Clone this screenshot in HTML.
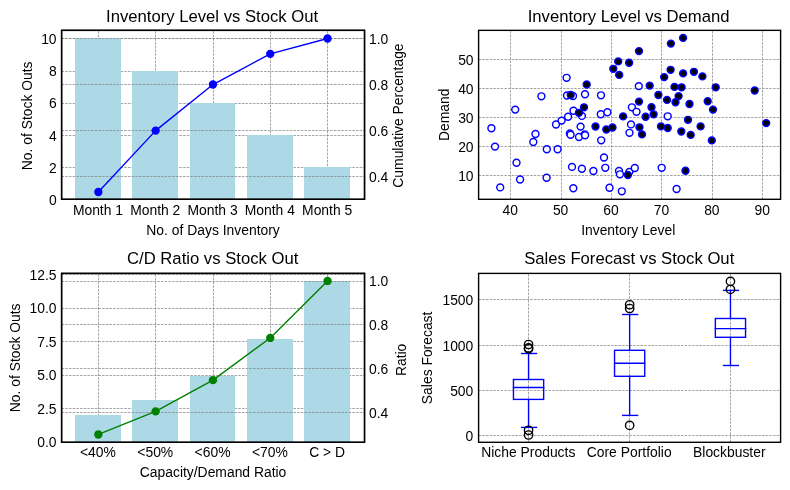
<!DOCTYPE html>
<html lang="en"><head><meta charset="utf-8"><title>Inventory charts</title>
<style>html,body{margin:0;padding:0;background:#fff}svg{display:block}text{white-space:pre}</style>
</head><body>
<svg width="790" height="490" viewBox="0 0 790 490" font-family='"Liberation Sans", sans-serif' fill="#000">
<rect width="790" height="490" fill="#fff"/>
<line x1="98.5" x2="98.5" y1="199.30" y2="30.35" stroke="#808080" stroke-width="0.7" stroke-dasharray="2.57 1.11" fill="none"/>
<line x1="155.5" x2="155.5" y1="199.30" y2="30.35" stroke="#808080" stroke-width="0.7" stroke-dasharray="2.57 1.11" fill="none"/>
<line x1="213.5" x2="213.5" y1="199.30" y2="30.35" stroke="#808080" stroke-width="0.7" stroke-dasharray="2.57 1.11" fill="none"/>
<line x1="270.5" x2="270.5" y1="199.30" y2="30.35" stroke="#808080" stroke-width="0.7" stroke-dasharray="2.57 1.11" fill="none"/>
<line x1="327.5" x2="327.5" y1="199.30" y2="30.35" stroke="#808080" stroke-width="0.7" stroke-dasharray="2.57 1.11" fill="none"/>
<line x1="61.60" x2="364.53" y1="167.5" y2="167.5" stroke="#808080" stroke-width="0.7" stroke-dasharray="2.57 1.11" fill="none"/>
<line x1="61.60" x2="364.53" y1="135.5" y2="135.5" stroke="#808080" stroke-width="0.7" stroke-dasharray="2.57 1.11" fill="none"/>
<line x1="61.60" x2="364.53" y1="103.5" y2="103.5" stroke="#808080" stroke-width="0.7" stroke-dasharray="2.57 1.11" fill="none"/>
<line x1="61.60" x2="364.53" y1="71.5" y2="71.5" stroke="#808080" stroke-width="0.7" stroke-dasharray="2.57 1.11" fill="none"/>
<line x1="61.60" x2="364.53" y1="38.5" y2="38.5" stroke="#808080" stroke-width="0.7" stroke-dasharray="2.57 1.11" fill="none"/>
<rect x="75" y="38" width="46" height="161.30" fill="#ADD8E6"/>
<rect x="132" y="71" width="46" height="128.30" fill="#ADD8E6"/>
<rect x="190" y="103" width="45" height="96.30" fill="#ADD8E6"/>
<rect x="247" y="135" width="46" height="64.30" fill="#ADD8E6"/>
<rect x="304" y="167" width="46" height="32.30" fill="#ADD8E6"/>
<line x1="61.60" x2="364.53" y1="176.5" y2="176.5" stroke="#808080" stroke-width="0.7" stroke-dasharray="2.57 1.11" fill="none"/>
<line x1="61.60" x2="364.53" y1="130.5" y2="130.5" stroke="#808080" stroke-width="0.7" stroke-dasharray="2.57 1.11" fill="none"/>
<line x1="61.60" x2="364.53" y1="84.5" y2="84.5" stroke="#808080" stroke-width="0.7" stroke-dasharray="2.57 1.11" fill="none"/>
<line x1="61.60" x2="364.53" y1="38.5" y2="38.5" stroke="#808080" stroke-width="0.7" stroke-dasharray="2.57 1.11" fill="none"/>
<polyline points="98.35,192.02 155.65,130.60 212.95,84.54 270.25,53.83 327.55,38.48" fill="none" stroke="#0000FF" stroke-width="1.39" stroke-linejoin="round"/>
<circle cx="98.35" cy="192.02" r="4.17" fill="#0000FF"/>
<circle cx="155.65" cy="130.60" r="4.17" fill="#0000FF"/>
<circle cx="212.95" cy="84.54" r="4.17" fill="#0000FF"/>
<circle cx="270.25" cy="53.83" r="4.17" fill="#0000FF"/>
<circle cx="327.55" cy="38.48" r="4.17" fill="#0000FF"/>
<rect x="61.60" y="30.35" width="302.93" height="168.95" fill="none" stroke="#000" stroke-width="1.39" stroke-linejoin="miter"/>
<rect x="61.60" y="30.35" width="302.93" height="168.95" fill="none" stroke="#000" stroke-width="1.39" stroke-linejoin="miter"/>
<text x="212.06" y="22.00" font-size="16.67" text-anchor="middle">Inventory Level vs Stock Out</text>
<text x="97.95" y="215.00" font-size="13.89" text-anchor="middle">Month 1</text>
<text x="155.25" y="215.00" font-size="13.89" text-anchor="middle">Month 2</text>
<text x="212.55" y="215.00" font-size="13.89" text-anchor="middle">Month 3</text>
<text x="269.85" y="215.00" font-size="13.89" text-anchor="middle">Month 4</text>
<text x="327.15" y="215.00" font-size="13.89" text-anchor="middle">Month 5</text>
<text x="213.06" y="234.60" font-size="13.89" text-anchor="middle">No. of Days Inventory</text>
<text x="56.60" y="205.00" font-size="13.89" text-anchor="end">0</text>
<text x="56.60" y="173.00" font-size="13.89" text-anchor="end">2</text>
<text x="56.60" y="141.00" font-size="13.89" text-anchor="end">4</text>
<text x="56.60" y="108.00" font-size="13.89" text-anchor="end">6</text>
<text x="56.60" y="76.00" font-size="13.89" text-anchor="end">8</text>
<text x="56.60" y="44.00" font-size="13.89" text-anchor="end">10</text>
<text x="369.03" y="182.00" font-size="13.89" text-anchor="start">0.4</text>
<text x="369.03" y="136.00" font-size="13.89" text-anchor="start">0.6</text>
<text x="369.03" y="90.00" font-size="13.89" text-anchor="start">0.8</text>
<text x="369.03" y="44.00" font-size="13.89" text-anchor="start">1.0</text>
<text x="31.60" y="115.83" font-size="13.89" text-anchor="middle" transform="rotate(-90 31.60 115.83)">No. of Stock Outs</text>
<text x="403.20" y="115.53" font-size="13.89" text-anchor="middle" transform="rotate(-90 403.20 115.53)">Cumulative Percentage</text>
<line x1="98.5" x2="98.5" y1="442.30" y2="273.40" stroke="#808080" stroke-width="0.7" stroke-dasharray="2.57 1.11" fill="none"/>
<line x1="155.5" x2="155.5" y1="442.30" y2="273.40" stroke="#808080" stroke-width="0.7" stroke-dasharray="2.57 1.11" fill="none"/>
<line x1="213.5" x2="213.5" y1="442.30" y2="273.40" stroke="#808080" stroke-width="0.7" stroke-dasharray="2.57 1.11" fill="none"/>
<line x1="270.5" x2="270.5" y1="442.30" y2="273.40" stroke="#808080" stroke-width="0.7" stroke-dasharray="2.57 1.11" fill="none"/>
<line x1="327.5" x2="327.5" y1="442.30" y2="273.40" stroke="#808080" stroke-width="0.7" stroke-dasharray="2.57 1.11" fill="none"/>
<line x1="61.60" x2="364.53" y1="408.5" y2="408.5" stroke="#808080" stroke-width="0.7" stroke-dasharray="2.57 1.11" fill="none"/>
<line x1="61.60" x2="364.53" y1="375.5" y2="375.5" stroke="#808080" stroke-width="0.7" stroke-dasharray="2.57 1.11" fill="none"/>
<line x1="61.60" x2="364.53" y1="341.5" y2="341.5" stroke="#808080" stroke-width="0.7" stroke-dasharray="2.57 1.11" fill="none"/>
<line x1="61.60" x2="364.53" y1="308.5" y2="308.5" stroke="#808080" stroke-width="0.7" stroke-dasharray="2.57 1.11" fill="none"/>
<line x1="61.60" x2="364.53" y1="274.5" y2="274.5" stroke="#808080" stroke-width="0.7" stroke-dasharray="2.57 1.11" fill="none"/>
<rect x="75" y="415" width="46" height="27.30" fill="#ADD8E6"/>
<rect x="132" y="400" width="46" height="42.30" fill="#ADD8E6"/>
<rect x="190" y="376" width="45" height="66.30" fill="#ADD8E6"/>
<rect x="247" y="339" width="46" height="103.30" fill="#ADD8E6"/>
<rect x="304" y="281" width="46" height="161.30" fill="#ADD8E6"/>
<line x1="61.60" x2="364.53" y1="412.5" y2="412.5" stroke="#808080" stroke-width="0.7" stroke-dasharray="2.57 1.11" fill="none"/>
<line x1="61.60" x2="364.53" y1="368.5" y2="368.5" stroke="#808080" stroke-width="0.7" stroke-dasharray="2.57 1.11" fill="none"/>
<line x1="61.60" x2="364.53" y1="324.5" y2="324.5" stroke="#808080" stroke-width="0.7" stroke-dasharray="2.57 1.11" fill="none"/>
<line x1="61.60" x2="364.53" y1="281.5" y2="281.5" stroke="#808080" stroke-width="0.7" stroke-dasharray="2.57 1.11" fill="none"/>
<polyline points="98.35,434.48 155.65,411.37 212.95,380.14 270.25,337.95 327.55,280.94" fill="none" stroke="#008000" stroke-width="1.39" stroke-linejoin="round"/>
<circle cx="98.35" cy="434.48" r="4.17" fill="#008000"/>
<circle cx="155.65" cy="411.37" r="4.17" fill="#008000"/>
<circle cx="212.95" cy="380.14" r="4.17" fill="#008000"/>
<circle cx="270.25" cy="337.95" r="4.17" fill="#008000"/>
<circle cx="327.55" cy="280.94" r="4.17" fill="#008000"/>
<rect x="61.60" y="273.40" width="302.93" height="168.90" fill="none" stroke="#000" stroke-width="1.39" stroke-linejoin="miter"/>
<rect x="61.60" y="273.40" width="302.93" height="168.90" fill="none" stroke="#000" stroke-width="1.39" stroke-linejoin="miter"/>
<text x="212.66" y="263.60" font-size="16.67" text-anchor="middle">C/D Ratio vs Stock Out</text>
<text x="97.95" y="457.40" font-size="13.89" text-anchor="middle">&lt;40%</text>
<text x="155.25" y="457.40" font-size="13.89" text-anchor="middle">&lt;50%</text>
<text x="212.55" y="457.40" font-size="13.89" text-anchor="middle">&lt;60%</text>
<text x="269.85" y="457.40" font-size="13.89" text-anchor="middle">&lt;70%</text>
<text x="327.15" y="457.40" font-size="13.89" text-anchor="middle">C &gt; D</text>
<text x="213.06" y="477.00" font-size="13.89" text-anchor="middle">Capacity/Demand Ratio</text>
<text x="56.60" y="447.00" font-size="13.89" text-anchor="end">0.0</text>
<text x="56.60" y="414.00" font-size="13.89" text-anchor="end">2.5</text>
<text x="56.60" y="380.00" font-size="13.89" text-anchor="end">5.0</text>
<text x="56.60" y="347.00" font-size="13.89" text-anchor="end">7.5</text>
<text x="56.60" y="313.00" font-size="13.89" text-anchor="end">10.0</text>
<text x="56.60" y="280.00" font-size="13.89" text-anchor="end">12.5</text>
<text x="369.03" y="418.00" font-size="13.89" text-anchor="start">0.4</text>
<text x="369.03" y="374.00" font-size="13.89" text-anchor="start">0.6</text>
<text x="369.03" y="330.00" font-size="13.89" text-anchor="start">0.8</text>
<text x="369.03" y="286.00" font-size="13.89" text-anchor="start">1.0</text>
<text x="20.00" y="357.85" font-size="13.89" text-anchor="middle" transform="rotate(-90 20.00 357.85)">No. of Stock Outs</text>
<text x="405.70" y="359.85" font-size="13.89" text-anchor="middle" transform="rotate(-90 405.70 359.85)">Ratio</text>
<line x1="510.5" x2="510.5" y1="199.30" y2="30.35" stroke="#808080" stroke-width="0.7" stroke-dasharray="2.57 1.11" fill="none"/>
<line x1="561.5" x2="561.5" y1="199.30" y2="30.35" stroke="#808080" stroke-width="0.7" stroke-dasharray="2.57 1.11" fill="none"/>
<line x1="611.5" x2="611.5" y1="199.30" y2="30.35" stroke="#808080" stroke-width="0.7" stroke-dasharray="2.57 1.11" fill="none"/>
<line x1="661.5" x2="661.5" y1="199.30" y2="30.35" stroke="#808080" stroke-width="0.7" stroke-dasharray="2.57 1.11" fill="none"/>
<line x1="712.5" x2="712.5" y1="199.30" y2="30.35" stroke="#808080" stroke-width="0.7" stroke-dasharray="2.57 1.11" fill="none"/>
<line x1="762.5" x2="762.5" y1="199.30" y2="30.35" stroke="#808080" stroke-width="0.7" stroke-dasharray="2.57 1.11" fill="none"/>
<line x1="478.60" x2="780.60" y1="175.5" y2="175.5" stroke="#808080" stroke-width="0.7" stroke-dasharray="2.57 1.11" fill="none"/>
<line x1="478.60" x2="780.60" y1="146.5" y2="146.5" stroke="#808080" stroke-width="0.7" stroke-dasharray="2.57 1.11" fill="none"/>
<line x1="478.60" x2="780.60" y1="117.5" y2="117.5" stroke="#808080" stroke-width="0.7" stroke-dasharray="2.57 1.11" fill="none"/>
<line x1="478.60" x2="780.60" y1="88.5" y2="88.5" stroke="#808080" stroke-width="0.7" stroke-dasharray="2.57 1.11" fill="none"/>
<line x1="478.60" x2="780.60" y1="59.5" y2="59.5" stroke="#808080" stroke-width="0.7" stroke-dasharray="2.57 1.11" fill="none"/>
<circle cx="566.6" cy="77.8" r="3.45" fill="#fff" stroke="#0000FF" stroke-width="1.45"/>
<circle cx="541.4" cy="96.3" r="3.45" fill="#fff" stroke="#0000FF" stroke-width="1.45"/>
<circle cx="515.2" cy="109.6" r="3.45" fill="#fff" stroke="#0000FF" stroke-width="1.45"/>
<circle cx="491.4" cy="128.2" r="3.45" fill="#fff" stroke="#0000FF" stroke-width="1.45"/>
<circle cx="556.0" cy="124.5" r="3.45" fill="#fff" stroke="#0000FF" stroke-width="1.45"/>
<circle cx="561.6" cy="120.6" r="3.45" fill="#fff" stroke="#0000FF" stroke-width="1.45"/>
<circle cx="568.1" cy="116.7" r="3.45" fill="#fff" stroke="#0000FF" stroke-width="1.45"/>
<circle cx="573.5" cy="110.7" r="3.45" fill="#fff" stroke="#0000FF" stroke-width="1.45"/>
<circle cx="581.9" cy="115.9" r="3.45" fill="#fff" stroke="#0000FF" stroke-width="1.45"/>
<circle cx="567.0" cy="95.5" r="3.45" fill="#fff" stroke="#0000FF" stroke-width="1.45"/>
<circle cx="573.0" cy="96.0" r="3.45" fill="#fff" stroke="#0000FF" stroke-width="1.45"/>
<circle cx="585.0" cy="94.2" r="3.45" fill="#fff" stroke="#0000FF" stroke-width="1.45"/>
<circle cx="601.0" cy="95.3" r="3.45" fill="#fff" stroke="#0000FF" stroke-width="1.45"/>
<circle cx="638.8" cy="86.1" r="3.45" fill="#fff" stroke="#0000FF" stroke-width="1.45"/>
<circle cx="600.8" cy="114.2" r="3.45" fill="#fff" stroke="#0000FF" stroke-width="1.45"/>
<circle cx="607.4" cy="112.2" r="3.45" fill="#fff" stroke="#0000FF" stroke-width="1.45"/>
<circle cx="631.9" cy="107.3" r="3.45" fill="#fff" stroke="#0000FF" stroke-width="1.45"/>
<circle cx="636.5" cy="111.8" r="3.45" fill="#fff" stroke="#0000FF" stroke-width="1.45"/>
<circle cx="580.6" cy="126.6" r="3.45" fill="#fff" stroke="#0000FF" stroke-width="1.45"/>
<circle cx="631.0" cy="124.4" r="3.45" fill="#fff" stroke="#0000FF" stroke-width="1.45"/>
<circle cx="667.7" cy="116.3" r="3.45" fill="#fff" stroke="#0000FF" stroke-width="1.45"/>
<circle cx="495.0" cy="146.6" r="3.45" fill="#fff" stroke="#0000FF" stroke-width="1.45"/>
<circle cx="535.5" cy="134.0" r="3.45" fill="#fff" stroke="#0000FF" stroke-width="1.45"/>
<circle cx="533.3" cy="142.0" r="3.45" fill="#fff" stroke="#0000FF" stroke-width="1.45"/>
<circle cx="516.5" cy="162.7" r="3.45" fill="#fff" stroke="#0000FF" stroke-width="1.45"/>
<circle cx="546.8" cy="149.2" r="3.45" fill="#fff" stroke="#0000FF" stroke-width="1.45"/>
<circle cx="557.6" cy="149.2" r="3.45" fill="#fff" stroke="#0000FF" stroke-width="1.45"/>
<circle cx="569.9" cy="133.5" r="3.45" fill="#fff" stroke="#0000FF" stroke-width="1.45"/>
<circle cx="570.6" cy="134.7" r="3.45" fill="#fff" stroke="#0000FF" stroke-width="1.45"/>
<circle cx="579.0" cy="137.0" r="3.45" fill="#fff" stroke="#0000FF" stroke-width="1.45"/>
<circle cx="584.7" cy="134.5" r="3.45" fill="#fff" stroke="#0000FF" stroke-width="1.45"/>
<circle cx="585.1" cy="135.3" r="3.45" fill="#fff" stroke="#0000FF" stroke-width="1.45"/>
<circle cx="601.2" cy="140.3" r="3.45" fill="#fff" stroke="#0000FF" stroke-width="1.45"/>
<circle cx="629.5" cy="132.8" r="3.45" fill="#fff" stroke="#0000FF" stroke-width="1.45"/>
<circle cx="604.0" cy="157.5" r="3.45" fill="#fff" stroke="#0000FF" stroke-width="1.45"/>
<circle cx="572.0" cy="166.9" r="3.45" fill="#fff" stroke="#0000FF" stroke-width="1.45"/>
<circle cx="581.9" cy="168.7" r="3.45" fill="#fff" stroke="#0000FF" stroke-width="1.45"/>
<circle cx="593.4" cy="171.0" r="3.45" fill="#fff" stroke="#0000FF" stroke-width="1.45"/>
<circle cx="605.3" cy="167.8" r="3.45" fill="#fff" stroke="#0000FF" stroke-width="1.45"/>
<circle cx="619.0" cy="171.0" r="3.45" fill="#fff" stroke="#0000FF" stroke-width="1.45"/>
<circle cx="619.9" cy="174.3" r="3.45" fill="#fff" stroke="#0000FF" stroke-width="1.45"/>
<circle cx="629.3" cy="171.9" r="3.45" fill="#fff" stroke="#0000FF" stroke-width="1.45"/>
<circle cx="634.8" cy="168.0" r="3.45" fill="#fff" stroke="#0000FF" stroke-width="1.45"/>
<circle cx="661.7" cy="167.8" r="3.45" fill="#fff" stroke="#0000FF" stroke-width="1.45"/>
<circle cx="676.6" cy="189.0" r="3.45" fill="#fff" stroke="#0000FF" stroke-width="1.45"/>
<circle cx="621.8" cy="191.3" r="3.45" fill="#fff" stroke="#0000FF" stroke-width="1.45"/>
<circle cx="609.5" cy="187.7" r="3.45" fill="#fff" stroke="#0000FF" stroke-width="1.45"/>
<circle cx="520.1" cy="179.5" r="3.45" fill="#fff" stroke="#0000FF" stroke-width="1.45"/>
<circle cx="500.2" cy="187.4" r="3.45" fill="#fff" stroke="#0000FF" stroke-width="1.45"/>
<circle cx="546.6" cy="177.7" r="3.45" fill="#fff" stroke="#0000FF" stroke-width="1.45"/>
<circle cx="573.3" cy="188.2" r="3.45" fill="#fff" stroke="#0000FF" stroke-width="1.45"/>
<circle cx="618.2" cy="61.4" r="3.45" fill="#000" stroke="#0000FF" stroke-width="1.45"/>
<circle cx="629.1" cy="62.7" r="3.45" fill="#000" stroke="#0000FF" stroke-width="1.45"/>
<circle cx="613.3" cy="68.8" r="3.45" fill="#000" stroke="#0000FF" stroke-width="1.45"/>
<circle cx="619.2" cy="74.9" r="3.45" fill="#000" stroke="#0000FF" stroke-width="1.45"/>
<circle cx="639.0" cy="51.1" r="3.45" fill="#000" stroke="#0000FF" stroke-width="1.45"/>
<circle cx="683.1" cy="37.9" r="3.45" fill="#000" stroke="#0000FF" stroke-width="1.45"/>
<circle cx="670.9" cy="43.6" r="3.45" fill="#000" stroke="#0000FF" stroke-width="1.45"/>
<circle cx="670.6" cy="69.8" r="3.45" fill="#000" stroke="#0000FF" stroke-width="1.45"/>
<circle cx="683.1" cy="73.4" r="3.45" fill="#000" stroke="#0000FF" stroke-width="1.45"/>
<circle cx="693.9" cy="71.8" r="3.45" fill="#000" stroke="#0000FF" stroke-width="1.45"/>
<circle cx="702.4" cy="76.4" r="3.45" fill="#000" stroke="#0000FF" stroke-width="1.45"/>
<circle cx="664.2" cy="77.1" r="3.45" fill="#000" stroke="#0000FF" stroke-width="1.45"/>
<circle cx="586.7" cy="84.5" r="3.45" fill="#000" stroke="#0000FF" stroke-width="1.45"/>
<circle cx="570.7" cy="95.0" r="3.45" fill="#000" stroke="#0000FF" stroke-width="1.45"/>
<circle cx="584.0" cy="107.3" r="3.45" fill="#000" stroke="#0000FF" stroke-width="1.45"/>
<circle cx="578.9" cy="112.8" r="3.45" fill="#000" stroke="#0000FF" stroke-width="1.45"/>
<circle cx="623.1" cy="116.4" r="3.45" fill="#000" stroke="#0000FF" stroke-width="1.45"/>
<circle cx="595.5" cy="126.5" r="3.45" fill="#000" stroke="#0000FF" stroke-width="1.45"/>
<circle cx="606.3" cy="129.5" r="3.45" fill="#000" stroke="#0000FF" stroke-width="1.45"/>
<circle cx="612.5" cy="127.5" r="3.45" fill="#000" stroke="#0000FF" stroke-width="1.45"/>
<circle cx="639.0" cy="101.6" r="3.45" fill="#000" stroke="#0000FF" stroke-width="1.45"/>
<circle cx="639.5" cy="127.3" r="3.45" fill="#000" stroke="#0000FF" stroke-width="1.45"/>
<circle cx="649.7" cy="85.6" r="3.45" fill="#000" stroke="#0000FF" stroke-width="1.45"/>
<circle cx="674.5" cy="86.9" r="3.45" fill="#000" stroke="#0000FF" stroke-width="1.45"/>
<circle cx="681.6" cy="87.3" r="3.45" fill="#000" stroke="#0000FF" stroke-width="1.45"/>
<circle cx="715.7" cy="87.3" r="3.45" fill="#000" stroke="#0000FF" stroke-width="1.45"/>
<circle cx="658.4" cy="95.0" r="3.45" fill="#000" stroke="#0000FF" stroke-width="1.45"/>
<circle cx="678.6" cy="96.1" r="3.45" fill="#000" stroke="#0000FF" stroke-width="1.45"/>
<circle cx="667.0" cy="99.9" r="3.45" fill="#000" stroke="#0000FF" stroke-width="1.45"/>
<circle cx="675.5" cy="102.2" r="3.45" fill="#000" stroke="#0000FF" stroke-width="1.45"/>
<circle cx="689.5" cy="104.0" r="3.45" fill="#000" stroke="#0000FF" stroke-width="1.45"/>
<circle cx="707.7" cy="101.2" r="3.45" fill="#000" stroke="#0000FF" stroke-width="1.45"/>
<circle cx="713.0" cy="109.6" r="3.45" fill="#000" stroke="#0000FF" stroke-width="1.45"/>
<circle cx="651.5" cy="107.2" r="3.45" fill="#000" stroke="#0000FF" stroke-width="1.45"/>
<circle cx="653.6" cy="114.3" r="3.45" fill="#000" stroke="#0000FF" stroke-width="1.45"/>
<circle cx="645.6" cy="116.7" r="3.45" fill="#000" stroke="#0000FF" stroke-width="1.45"/>
<circle cx="688.0" cy="119.8" r="3.45" fill="#000" stroke="#0000FF" stroke-width="1.45"/>
<circle cx="700.6" cy="126.4" r="3.45" fill="#000" stroke="#0000FF" stroke-width="1.45"/>
<circle cx="661.0" cy="126.4" r="3.45" fill="#000" stroke="#0000FF" stroke-width="1.45"/>
<circle cx="667.7" cy="128.0" r="3.45" fill="#000" stroke="#0000FF" stroke-width="1.45"/>
<circle cx="754.7" cy="90.5" r="3.45" fill="#000" stroke="#0000FF" stroke-width="1.45"/>
<circle cx="766.2" cy="123.1" r="3.45" fill="#000" stroke="#0000FF" stroke-width="1.45"/>
<circle cx="642.0" cy="134.4" r="3.45" fill="#000" stroke="#0000FF" stroke-width="1.45"/>
<circle cx="681.3" cy="131.5" r="3.45" fill="#000" stroke="#0000FF" stroke-width="1.45"/>
<circle cx="690.7" cy="134.9" r="3.45" fill="#000" stroke="#0000FF" stroke-width="1.45"/>
<circle cx="711.8" cy="140.4" r="3.45" fill="#000" stroke="#0000FF" stroke-width="1.45"/>
<circle cx="627.9" cy="175.0" r="3.45" fill="#000" stroke="#0000FF" stroke-width="1.45"/>
<circle cx="685.5" cy="170.7" r="3.45" fill="#000" stroke="#0000FF" stroke-width="1.45"/>
<rect x="478.60" y="30.35" width="302.00" height="168.95" fill="none" stroke="#000" stroke-width="1.39" stroke-linejoin="miter"/>
<text x="628.60" y="22.00" font-size="16.67" text-anchor="middle">Inventory Level vs Demand</text>
<text x="510.20" y="214.80" font-size="13.89" text-anchor="middle">40</text>
<text x="560.62" y="214.80" font-size="13.89" text-anchor="middle">50</text>
<text x="611.04" y="214.80" font-size="13.89" text-anchor="middle">60</text>
<text x="661.46" y="214.80" font-size="13.89" text-anchor="middle">70</text>
<text x="711.88" y="214.80" font-size="13.89" text-anchor="middle">80</text>
<text x="762.30" y="214.80" font-size="13.89" text-anchor="middle">90</text>
<text x="473.60" y="181.00" font-size="13.89" text-anchor="end">10</text>
<text x="473.60" y="152.00" font-size="13.89" text-anchor="end">20</text>
<text x="473.60" y="123.00" font-size="13.89" text-anchor="end">30</text>
<text x="473.60" y="94.00" font-size="13.89" text-anchor="end">40</text>
<text x="473.60" y="65.00" font-size="13.89" text-anchor="end">50</text>
<text x="628.20" y="234.60" font-size="13.89" text-anchor="middle">Inventory Level</text>
<text x="449.50" y="114.83" font-size="13.89" text-anchor="middle" transform="rotate(-90 449.50 114.83)">Demand</text>
<line x1="528.5" x2="528.5" y1="442.30" y2="273.40" stroke="#808080" stroke-width="0.7" stroke-dasharray="2.57 1.11" fill="none"/>
<line x1="629.5" x2="629.5" y1="442.30" y2="273.40" stroke="#808080" stroke-width="0.7" stroke-dasharray="2.57 1.11" fill="none"/>
<line x1="730.5" x2="730.5" y1="442.30" y2="273.40" stroke="#808080" stroke-width="0.7" stroke-dasharray="2.57 1.11" fill="none"/>
<line x1="478.60" x2="780.60" y1="435.5" y2="435.5" stroke="#808080" stroke-width="0.7" stroke-dasharray="2.57 1.11" fill="none"/>
<line x1="478.60" x2="780.60" y1="390.5" y2="390.5" stroke="#808080" stroke-width="0.7" stroke-dasharray="2.57 1.11" fill="none"/>
<line x1="478.60" x2="780.60" y1="345.5" y2="345.5" stroke="#808080" stroke-width="0.7" stroke-dasharray="2.57 1.11" fill="none"/>
<line x1="478.60" x2="780.60" y1="299.5" y2="299.5" stroke="#808080" stroke-width="0.7" stroke-dasharray="2.57 1.11" fill="none"/>
<rect x="513.45" y="379.50" width="30.20" height="19.90" stroke="#0000FF" stroke-width="1.39" fill="none" stroke-linecap="square"/>
<line x1="513.45" x2="543.65" y1="387.55" y2="387.55" stroke="#0000FF" stroke-width="1.39" fill="none" stroke-linecap="square"/>
<line x1="528.55" x2="528.55" y1="379.50" y2="353.50" stroke="#0000FF" stroke-width="1.39" fill="none" stroke-linecap="square"/>
<line x1="528.55" x2="528.55" y1="399.40" y2="427.40" stroke="#0000FF" stroke-width="1.39" fill="none" stroke-linecap="square"/>
<line x1="521.65" x2="536.45" y1="353.50" y2="353.50" stroke="#0000FF" stroke-width="1.39" fill="none" stroke-linecap="square"/>
<line x1="521.65" x2="536.45" y1="427.40" y2="427.40" stroke="#0000FF" stroke-width="1.39" fill="none" stroke-linecap="square"/>
<circle cx="528.55" cy="344.50" r="4.17" fill="none" stroke="#000" stroke-width="1.39"/>
<circle cx="528.55" cy="347.90" r="4.17" fill="none" stroke="#000" stroke-width="1.39"/>
<circle cx="528.55" cy="348.80" r="4.17" fill="none" stroke="#000" stroke-width="1.39"/>
<circle cx="528.55" cy="430.30" r="4.17" fill="none" stroke="#000" stroke-width="1.39"/>
<circle cx="528.55" cy="435.00" r="4.17" fill="none" stroke="#000" stroke-width="1.39"/>
<rect x="614.55" y="350.30" width="30.20" height="26.00" stroke="#0000FF" stroke-width="1.39" fill="none" stroke-linecap="square"/>
<line x1="614.55" x2="644.75" y1="363.30" y2="363.30" stroke="#0000FF" stroke-width="1.39" fill="none" stroke-linecap="square"/>
<line x1="629.65" x2="629.65" y1="350.30" y2="314.50" stroke="#0000FF" stroke-width="1.39" fill="none" stroke-linecap="square"/>
<line x1="629.65" x2="629.65" y1="376.30" y2="415.40" stroke="#0000FF" stroke-width="1.39" fill="none" stroke-linecap="square"/>
<line x1="622.75" x2="637.55" y1="314.50" y2="314.50" stroke="#0000FF" stroke-width="1.39" fill="none" stroke-linecap="square"/>
<line x1="622.75" x2="637.55" y1="415.40" y2="415.40" stroke="#0000FF" stroke-width="1.39" fill="none" stroke-linecap="square"/>
<circle cx="629.65" cy="304.75" r="4.17" fill="none" stroke="#000" stroke-width="1.39"/>
<circle cx="629.65" cy="308.50" r="4.17" fill="none" stroke="#000" stroke-width="1.39"/>
<circle cx="629.65" cy="425.40" r="4.17" fill="none" stroke="#000" stroke-width="1.39"/>
<rect x="715.35" y="318.50" width="30.20" height="18.80" stroke="#0000FF" stroke-width="1.39" fill="none" stroke-linecap="square"/>
<line x1="715.35" x2="745.55" y1="328.60" y2="328.60" stroke="#0000FF" stroke-width="1.39" fill="none" stroke-linecap="square"/>
<line x1="730.45" x2="730.45" y1="318.50" y2="290.40" stroke="#0000FF" stroke-width="1.39" fill="none" stroke-linecap="square"/>
<line x1="730.45" x2="730.45" y1="337.30" y2="365.50" stroke="#0000FF" stroke-width="1.39" fill="none" stroke-linecap="square"/>
<line x1="723.55" x2="738.35" y1="290.40" y2="290.40" stroke="#0000FF" stroke-width="1.39" fill="none" stroke-linecap="square"/>
<line x1="723.55" x2="738.35" y1="365.50" y2="365.50" stroke="#0000FF" stroke-width="1.39" fill="none" stroke-linecap="square"/>
<circle cx="730.45" cy="281.40" r="4.17" fill="none" stroke="#000" stroke-width="1.39"/>
<circle cx="730.45" cy="289.40" r="4.17" fill="none" stroke="#000" stroke-width="1.39"/>
<rect x="478.60" y="273.40" width="302.00" height="168.90" fill="none" stroke="#000" stroke-width="1.39" stroke-linejoin="miter"/>
<text x="629.20" y="263.60" font-size="16.67" text-anchor="middle">Sales Forecast vs Stock Out</text>
<text x="528.30" y="456.60" font-size="13.89" text-anchor="middle">Niche Products</text>
<text x="629.20" y="456.60" font-size="13.89" text-anchor="middle">Core Portfolio</text>
<text x="729.30" y="456.60" font-size="13.89" text-anchor="middle">Blockbuster</text>
<text x="473.30" y="441.00" font-size="13.89" text-anchor="end">0</text>
<text x="473.30" y="396.00" font-size="13.89" text-anchor="end">500</text>
<text x="473.30" y="351.00" font-size="13.89" text-anchor="end">1000</text>
<text x="473.30" y="305.00" font-size="13.89" text-anchor="end">1500</text>
<text x="432.50" y="357.85" font-size="13.89" text-anchor="middle" transform="rotate(-90 432.50 357.85)">Sales Forecast</text>
</svg>
</body></html>
